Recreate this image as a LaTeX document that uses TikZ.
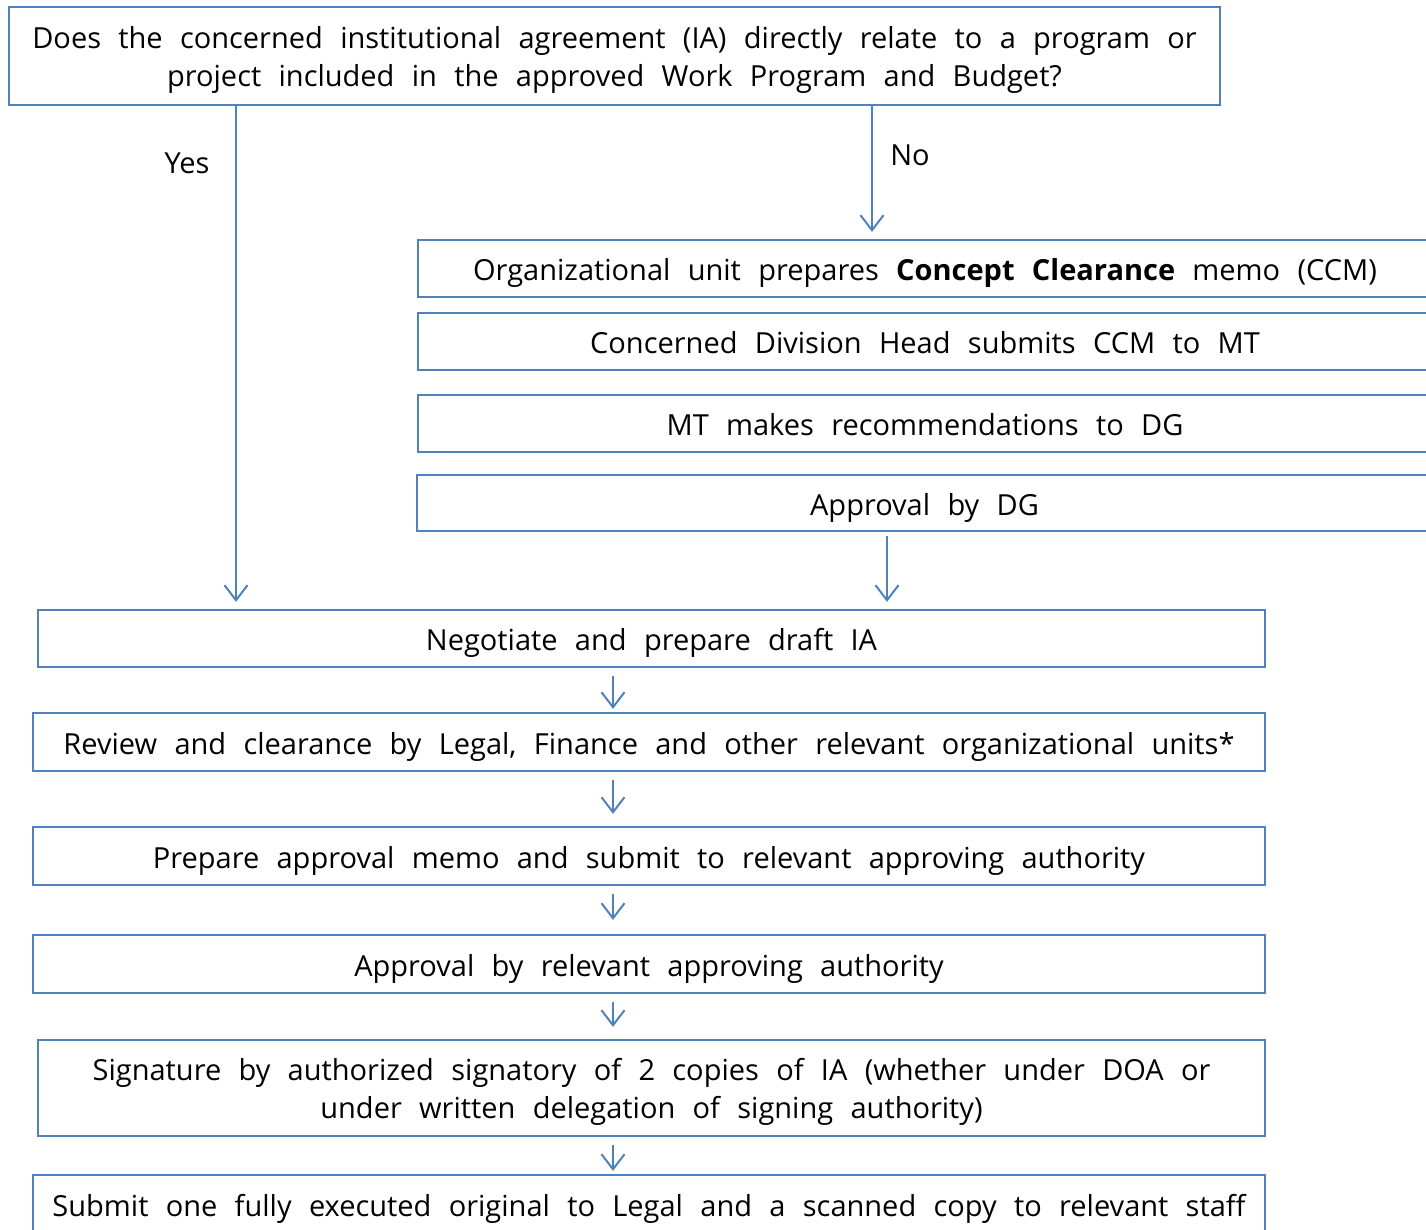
\documentclass[tikz,border=0pt]{standalone}
\usepackage{fontspec}
\setmainfont{Open Sans}[WordSpace={2.3,0,0}]
\usetikzlibrary{arrows.meta, positioning}
\definecolor{flowblue}{HTML}{4F81BD}
\newcommand{\flowfont}{\fontsize{29}{38}\selectfont}

\tikzset{
  stepbox/.style={draw=flowblue, line width=2.3pt, inner sep=0pt, align=center, font=\flowfont,
    execute at begin node={\rule[-8pt]{0pt}{40pt}}},
  twoline/.style={text height=68pt, text depth=8pt},
  flow/.style={draw=flowblue, line width=2pt, -{Straight Barb[length=15pt,width=23pt]}},
  lbl/.style={font=\flowfont, inner sep=0pt}
}

\begin{document}
\begin{tikzpicture}[x=1pt, y=-1pt]
  \useasboundingbox (0,0) rectangle (1426,1229);
  \clip (0,0) rectangle (1426,1229);

  % question
  \node[stepbox, twoline, minimum width=1211pt, minimum height=98pt] (ask) at (614.5,56)
    {Does the concerned institutional agreement (IA) directly relate to a program or\\
     project included in the approved Work Program and Budget?};

  % "No" branch
  \node[stepbox, minimum width=1014pt, minimum height=57pt] (ccm) at (925,268.5)
    {Organizational unit prepares \textbf{Concept Clearance} memo (CCM)};
  \node[stepbox, minimum width=1014pt, minimum height=57pt] (tomt) at (925,341.5)
    {Concerned Division Head submits CCM to MT};
  \node[stepbox, minimum width=1014pt, minimum height=57pt] (mtrec) at (925,423.5)
    {MT makes recommendations to DG};
  \node[stepbox, minimum width=1015pt, minimum height=56pt] (dgok) at (924.5,503)
    {Approval by DG};

  % main steps
  \node[stepbox, minimum width=1227pt, minimum height=57pt] (draft) at (651.5,638.5)
    {Negotiate and prepare draft IA};
  \node[stepbox, minimum width=1232pt, minimum height=58pt] (review) at (649,742)
    {Review and clearance by Legal, Finance and other relevant organizational units*};
  \node[stepbox, minimum width=1232pt, minimum height=58pt] (memo) at (649,856)
    {Prepare approval memo and submit to relevant approving authority};
  \node[stepbox, minimum width=1232pt, minimum height=58pt] (authok) at (649,964)
    {Approval by relevant approving authority};
  \node[stepbox, twoline, minimum width=1227pt, minimum height=96pt] (sign) at (651.5,1088)
    {Signature by authorized signatory of 2 copies of IA (whether under DOA or\\
     under written delegation of signing authority)};
  \node[stepbox, minimum width=1232pt, minimum height=58pt] (final) at (649,1204)
    {Submit one fully executed original to Legal and a scanned copy to relevant staff};

  % labels
  \node[lbl] (yeslbl) at (187,163) {Yes};
  \node[lbl] (nolbl) at (910,155) {No};

  % connectors
  \coordinate (yes) at (236,0);
  \coordinate (no) at (872,0);
  \coordinate (dg) at (887,0);
  \coordinate (mid) at (613,0);
  \draw[flow, shorten >=7pt] (ask.south -| yes) -- (draft.north -| yes);
  \draw[flow, shorten >=7pt] (ask.south -| no) -- (ccm.north -| no);
  \draw[flow, shorten <=4pt, shorten >=7pt] (dgok.south -| dg) -- (draft.north -| dg);
  \foreach \a/\b/\g in {draft/review/3, review/memo/12, memo/authok/14, authok/sign/12, sign/final/3}
    \draw[flow, shorten <=8pt, shorten >=\g pt] (\a.south -| mid) -- (\b.north -| mid);
\end{tikzpicture}
\end{document}
